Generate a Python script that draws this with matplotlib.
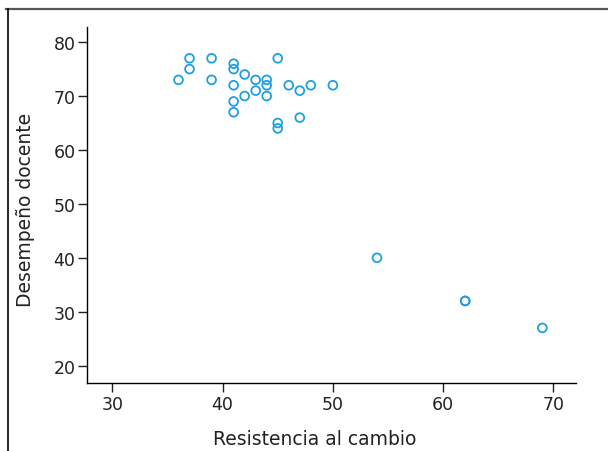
import matplotlib
matplotlib.use("Agg")
import matplotlib.pyplot as plt
from matplotlib.lines import Line2D

# Resistencia al cambio vs Desempeño docente
resistencia = [37, 39, 37, 36, 39, 41, 41, 42, 41, 43, 44, 44, 43, 44, 42,
               41, 41, 45, 46, 47, 48, 50, 47, 45, 45, 54, 62, 62, 69]
desempeno = [77, 77, 75, 73, 73, 76, 75, 74, 72, 73, 73, 72, 71, 70, 70,
             69, 67, 77, 72, 71, 72, 72, 66, 65, 64, 40, 32, 32, 27]

x_ticks = [30, 40, 50, 60, 70]
y_ticks = [20, 30, 40, 50, 60, 70, 80]

plt.rcParams["font.family"] = ["DejaVu Sans"]

fig = plt.figure(figsize=(6.08, 4.52), dpi=100)
ax = fig.add_axes([0.1436, 0.1498, 0.9470 - 0.1436, 0.938 - 0.1498])

ax.scatter(resistencia, desempeno, s=40, facecolors="none",
           edgecolors="#1ea0e0", linewidths=1.3, zorder=3)

ax.set_xlim(27.73, 72.03)
ax.set_ylim(16.73, 82.8)
ax.set_xticks(x_ticks)
ax.set_yticks(y_ticks)

for side in ("top", "right"):
    ax.spines[side].set_visible(False)
for side in ("left", "bottom"):
    ax.spines[side].set_color("black")
    ax.spines[side].set_linewidth(1.0)

ax.tick_params(axis="both", direction="out", length=6.5, width=1.0,
               labelsize=12.5, colors="#222222", pad=2)
ax.set_xlabel("Resistencia al cambio", fontsize=13.5, color="#222222")
ax.set_ylabel("Desempeño docente", fontsize=13.5, color="#222222")
ax.xaxis.set_label_coords(0.466, -0.128)
ax.yaxis.set_label_coords(-0.107, 0.49)

# marco exterior (arriba y a la izquierda)
fig.add_artist(Line2D([6 / 608, 1.0], [1 - 10 / 452, 1 - 10 / 452],
                      transform=fig.transFigure, color="#555555", lw=1.6))
fig.add_artist(Line2D([7.5 / 608, 7.5 / 608], [0.0, 1 - 10 / 452],
                      transform=fig.transFigure, color="black", lw=1.2))

fig.savefig("out.png", dpi=100)
